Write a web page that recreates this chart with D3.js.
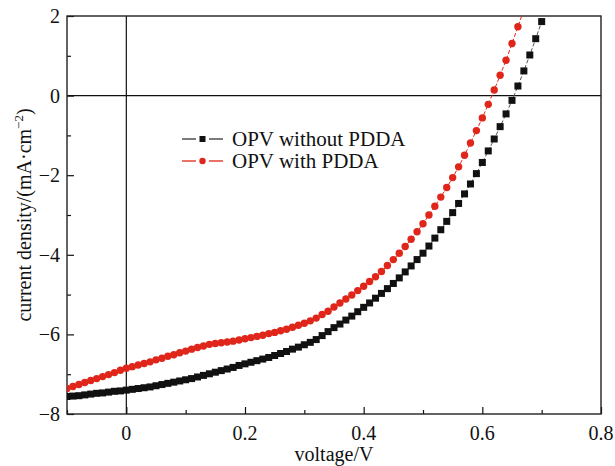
<html lang="en">
<head>
<meta charset="UTF-8">
<title>J-V curves</title>
<script src="https://d3js.org/d3.v7.min.js"></script>
<style>
  body { margin: 0; background: #fff; }
  text { font-family: "Liberation Serif", "Times New Roman", serif; fill: #111; }
</style>
</head>
<body>
<div id="chart"></div>
<script>
// voltage steps (V)
const voltage = d3.range(-10, 71).map(d => d / 100);

// OPV without PDDA, current density (mA/cm2), -0.10 .. 0.70
const withoutPDDA = [
  -7.56, -7.55, -7.54, -7.52, -7.50, -7.48, -7.47, -7.45, -7.43, -7.42,
  -7.40, -7.38, -7.36, -7.34, -7.32, -7.29, -7.26, -7.23, -7.20, -7.17,
  -7.14, -7.11, -7.07, -7.03, -6.99, -6.95, -6.91, -6.87, -6.83, -6.78,
  -6.74, -6.70, -6.66, -6.62, -6.58, -6.53, -6.48, -6.43, -6.37, -6.32,
  -6.26, -6.20, -6.13, -6.03, -5.93, -5.83, -5.74, -5.64, -5.54, -5.43,
  -5.32, -5.21, -5.09, -4.97, -4.85, -4.72, -4.58, -4.43, -4.28, -4.12,
  -3.96, -3.78, -3.58, -3.37, -3.16, -2.94, -2.71, -2.47, -2.22, -1.96,
  -1.68, -1.39, -1.09, -0.78, -0.46, -0.12, 0.24, 0.62, 1.02, 1.43,
  1.86
];

// OPV with PDDA, -0.10 .. 0.67 (last one is off the top)
const withPDDA = [
  -7.36, -7.31, -7.26, -7.21, -7.16, -7.11, -7.06, -7.01, -6.96, -6.90,
  -6.85, -6.81, -6.77, -6.73, -6.69, -6.64, -6.60, -6.55, -6.51, -6.46,
  -6.42, -6.37, -6.33, -6.29, -6.25, -6.23, -6.21, -6.19, -6.17, -6.14,
  -6.11, -6.08, -6.05, -6.02, -5.98, -5.95, -5.91, -5.87, -5.82, -5.77,
  -5.72, -5.66, -5.59, -5.50, -5.42, -5.31, -5.21, -5.11, -5.01, -4.90,
  -4.79, -4.67, -4.55, -4.42, -4.27, -4.12, -3.96, -3.79, -3.61, -3.42,
  -3.22, -3.00, -2.78, -2.55, -2.31, -2.06, -1.79, -1.50, -1.19, -0.88,
  -0.56, -0.22, 0.14, 0.51, 0.89, 1.31, 1.73, 2.16
];

const xTicks = [0, 0.2, 0.4, 0.6, 0.8];
const xTickLabels = ["0", "0.2", "0.4", "0.6", "0.8"];
const yTicks = [2, 0, -2, -4, -6, -8];
const yTickLabels = ["2", "0", "\u22122", "\u22124", "\u22126", "\u22128"];
const legendLabels = ["OPV without PDDA", "OPV with PDDA"];

const width = 615, height = 466;
const margin = { top: 16, right: 14, bottom: 52, left: 67 };

const svg = d3.select("#chart").append("svg")
  .attr("width", width)
  .attr("height", height);

const x = d3.scaleLinear().domain([-0.1, 0.8]).range([margin.left, width - margin.right]);
const y = d3.scaleLinear().domain([-8, 2]).range([height - margin.bottom, margin.top]);

svg.append("clipPath").attr("id", "clip")
  .append("rect")
  .attr("x", margin.left).attr("y", margin.top)
  .attr("width", x.range()[1] - margin.left)
  .attr("height", y.range()[0] - margin.top);

// zero lines
svg.append("line")
  .attr("x1", x(0)).attr("x2", x(0))
  .attr("y1", y(2)).attr("y2", y(-8))
  .attr("stroke", "#111").attr("stroke-width", 1.2);
svg.append("line")
  .attr("x1", x(-0.1)).attr("x2", x(0.8))
  .attr("y1", y(0)).attr("y2", y(0))
  .attr("stroke", "#111").attr("stroke-width", 1.2);

// axes, ticks inward
const xAxis = svg.append("g")
  .attr("transform", `translate(0,${y(-8)})`)
  .call(d3.axisBottom(x).tickValues(d3.range(-1, 9).map(d => d / 10)).tickSize(-6).tickFormat(""));
xAxis.selectAll(".tick line").attr("y2", d => Math.round(d * 10) % 2 === 0 ? -7 : -4);
const yAxis = svg.append("g")
  .attr("transform", `translate(${x(-0.1)},0)`)
  .call(d3.axisLeft(y).tickValues(d3.range(-8, 3)).tickSize(-6).tickFormat(""));
yAxis.selectAll(".tick line").attr("x2", d => d % 2 === 0 ? 7 : 4);
svg.selectAll(".domain").remove();
svg.selectAll(".tick line").attr("stroke", "#111").attr("stroke-width", 1.2);

// frame
svg.append("rect")
  .attr("x", x(-0.1)).attr("y", y(2))
  .attr("width", x(0.8) - x(-0.1))
  .attr("height", y(-8) - y(2))
  .attr("fill", "none")
  .attr("stroke", "#222")
  .attr("stroke-width", 1.4);

// tick labels
svg.append("g").selectAll("text")
  .data(xTicks)
  .join("text")
  .attr("x", d => x(d))
  .attr("y", y(-8) + 26)
  .attr("text-anchor", "middle")
  .style("font-size", "20px")
  .text((d, i) => xTickLabels[i]);

svg.append("g").selectAll("text")
  .data(yTicks)
  .join("text")
  .attr("x", x(-0.1) - 7)
  .attr("y", d => y(d) + 7)
  .attr("text-anchor", "end")
  .style("font-size", "20px")
  .text((d, i) => yTickLabels[i]);

// axis titles
svg.append("text")
  .attr("x", (x(-0.1) + x(0.8)) / 2)
  .attr("y", 461)
  .attr("text-anchor", "middle")
  .style("font-size", "20px")
  .text("voltage/V");

const yl = svg.append("text")
  .attr("transform", `translate(31,${(y(2) + y(-8)) / 2}) rotate(-90)`)
  .attr("text-anchor", "middle")
  .style("font-size", "20px");
yl.append("tspan").text("current density/(mA\u00b7cm");
yl.append("tspan").attr("dy", -8).style("font-size", "13px").text("\u22122");
yl.append("tspan").attr("dy", 8).text(")");

// series
const series = [
  { values: withoutPDDA, color: "#111111", line: "#555", shape: "square" },
  { values: withPDDA, color: "#e0261b", line: "#e0261b", shape: "circle" }
];

const plot = svg.append("g").attr("clip-path", "url(#clip)");
const lineGen = d3.line().x(d => x(d.v)).y(d => y(d.j));

series.forEach(s => {
  const pts = s.values.map((j, i) => ({ v: voltage[i], j: j }));
  plot.append("path")
    .datum(pts)
    .attr("d", lineGen)
    .attr("fill", "none")
    .attr("stroke", s.line)
    .attr("stroke-width", 1)
    .attr("stroke-dasharray", "4,2");
  const inside = pts.filter(p => p.j <= 2);
  if (s.shape === "square") {
    plot.append("g").selectAll("rect")
      .data(inside)
      .join("rect")
      .attr("x", d => x(d.v) - 3.5)
      .attr("y", d => y(d.j) - 3.5)
      .attr("width", 7)
      .attr("height", 7)
      .attr("fill", s.color);
  } else {
    plot.append("g").selectAll("circle")
      .data(inside)
      .join("circle")
      .attr("cx", d => x(d.v))
      .attr("cy", d => y(d.j))
      .attr("r", 3.7)
      .attr("fill", s.color);
  }
});

// legend
const legend = svg.append("g");
const legendRows = [
  { label: legendLabels[0], y: 139, color: "#111111", line: "#333", shape: "square" },
  { label: legendLabels[1], y: 161, color: "#e0261b", line: "#e0261b", shape: "circle" }
];
legendRows.forEach(r => {
  legend.append("line").attr("x1", 182).attr("x2", 196).attr("y1", r.y).attr("y2", r.y)
    .attr("stroke", r.line).attr("stroke-width", 1.3);
  legend.append("line").attr("x1", 209).attr("x2", 223).attr("y1", r.y).attr("y2", r.y)
    .attr("stroke", r.line).attr("stroke-width", 1.3);
  if (r.shape === "square") {
    legend.append("rect").attr("x", 199.5).attr("y", r.y - 3).attr("width", 6).attr("height", 6).attr("fill", r.color);
  } else {
    legend.append("circle").attr("cx", 202.5).attr("cy", r.y).attr("r", 3.2).attr("fill", r.color);
  }
  legend.append("text")
    .attr("x", 232)
    .attr("y", r.y + 7)
    .style("font-size", "21px")
    .text(r.label);
});
</script>
</body>
</html>
